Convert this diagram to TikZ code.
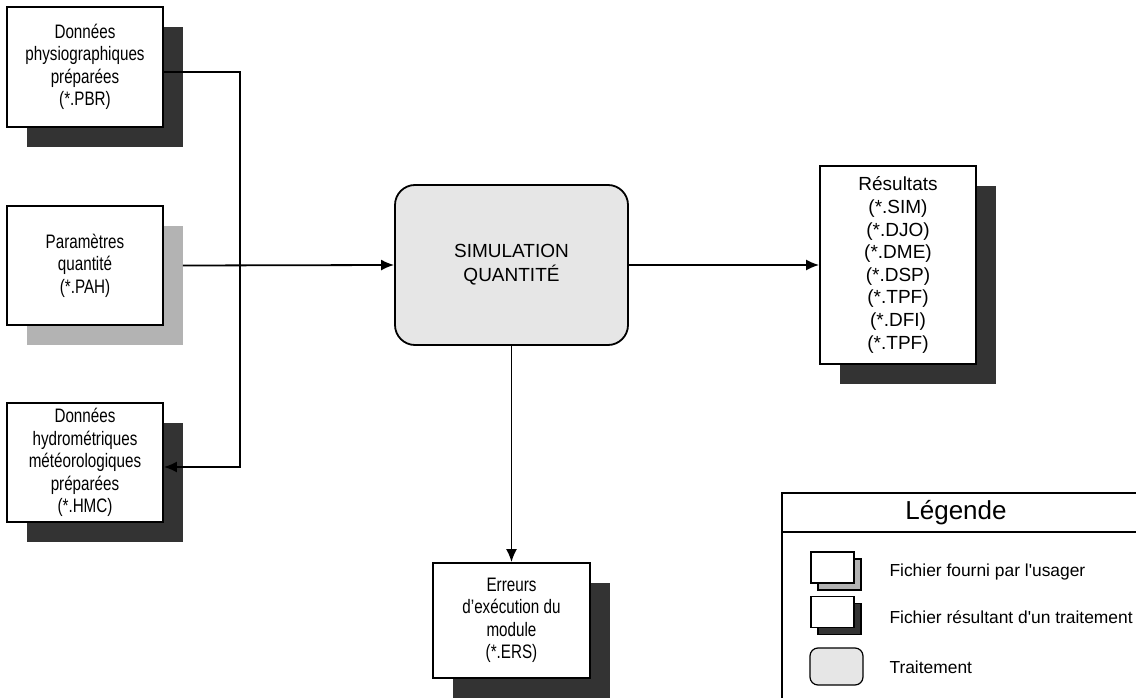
\documentclass[tikz,border=0pt]{standalone}
\usepackage{fontspec}
\setmainfont{Liberation Sans}
\newfontfamily\etroite[FakeStretch=0.78]{Liberation Sans}
\usetikzlibrary{shadows,arrows.meta}
\definecolor{ombrefonce}{HTML}{333333}
\definecolor{ombreclaire}{HTML}{B3B3B3}
\definecolor{fondtraitement}{HTML}{E6E6E6}

\begin{document}
\begin{tikzpicture}[x=1pt,y=-1pt,
  fichier/.style={draw, fill=white, line width=1.8pt, inner sep=0pt,
    minimum width=156pt, minimum height=119pt, align=center,
    font=\etroite\fontsize{19.5}{22.5}\selectfont},
  ombreusager/.style={drop shadow={shadow xshift=20pt, shadow yshift=-20pt,
    opacity=1, fill=ombreclaire}},
  ombreresultat/.style={drop shadow={shadow xshift=20pt, shadow yshift=-20pt,
    opacity=1, fill=ombrefonce}},
  traitement/.style={draw, fill=fondtraitement, line width=1.8pt,
    rounded corners=20pt, minimum width=233pt, minimum height=160pt,
    align=center, font=\fontsize{19}{24}\selectfont},
  lien/.style={line width=1.8pt},
  fleche/.style={lien, -{Latex[length=13pt,width=11pt]}},
  icone/.style={draw, fill=white, line width=1.2pt, inner sep=0pt,
    minimum width=43pt, minimum height=31pt},
  ombreicone/.style={drop shadow={shadow xshift=7pt, shadow yshift=-7pt,
    opacity=1, draw=black, line width=1.2pt, fill=#1}},
  legende/.style={anchor=west, font=\fontsize{17.4}{20}\selectfont}]

  \path[use as bounding box, clip] (0,0) rectangle (1136,698);

  % Fichiers d'entree
  \node[fichier, ombreresultat, minimum height=120pt] (pbr) at (85,67)
    {Données\\physiographiques\\préparées\\(*.PBR)};
  \node[fichier, ombreusager] (pah) at (85,265.5)
    {Paramètres\\quantité\\(*.PAH)};
  \node[fichier, ombreresultat] (hmc) at (85,462.5)
    {Données\\hydrométriques\\météorologiques\\préparées\\(*.HMC)};

  % Traitement
  \node[traitement] (sim) at (511.5,265) {SIMULATION\\QUANTITÉ};

  % Fichiers resultants
  \node[fichier, ombreresultat, minimum width=157pt, minimum height=115pt]
    (ers) at (511.5,620.5) {Erreurs\\d’exécution du\\module\\(*.ERS)};
  \node[fichier, ombreresultat, minimum height=198pt,
    font=\fontsize{19}{22.6}\selectfont] (res) at (898,265)
    {Résultats\\(*.SIM)\\(*.DJO)\\(*.DME)\\(*.DSP)\\(*.TPF)\\(*.DFI)\\(*.TPF)};

  % Liens
  \coordinate (coudebas) at (240,467);
  \draw[fleche] ([yshift=-5pt]pbr.east) -| (coudebas) -- (hmc.east |- coudebas);
  \draw[fleche] ([xshift=19pt]pah.east) -- (sim.west);
  \draw[fleche] (sim.east) -- (res.west);
  \draw[fleche] (sim.south) -- (ers.north);

  % Legende
  \draw[lien] (782,710) |- (1145,493);
  \draw[lien] (782,532) -- (1145,532);
  \node[font=\fontsize{26}{28}\selectfont] (titre) at (956,513) {Légende};
  \node[icone, ombreicone=ombreclaire] (ico1) at (832.5,567.5) {};
  \node[icone, ombreicone=ombrefonce] (ico2) at (832.5,612) {};
  \node[icone, fill=fondtraitement, rounded corners=8pt, minimum width=53pt,
    minimum height=37pt] (ico3) at (836.5,666.5) {};
  \node[legende] (txt1) at (886,572) {Fichier fourni par l\textquotesingle usager};
  \node[legende] (txt2) at (886,617) {Fichier résultant d\textquotesingle un traitement};
  \node[legende] (txt3) at (886,667) {Traitement};
\end{tikzpicture}
\end{document}
